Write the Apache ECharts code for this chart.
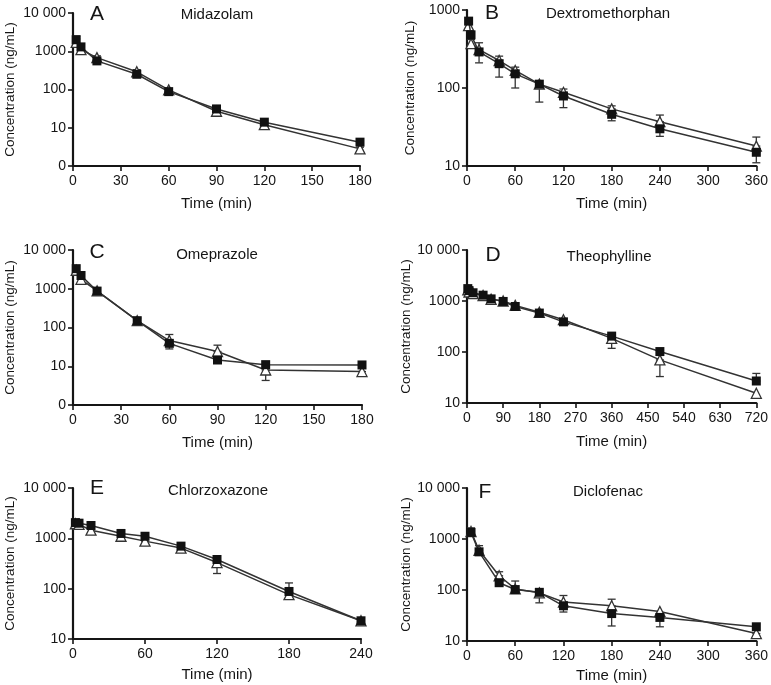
<!DOCTYPE html>
<html>
<head>
<meta charset="utf-8">
<script src="https://cdn.jsdelivr.net/npm/echarts@6/dist/echarts.min.js"></script>
<style>
html,body{margin:0;padding:0;background:#fff;}
#chart{width:771px;height:685px;}
</style>
</head>
<body>
<div id="chart"></div>
<script>
// ---------- DATA ----------
const panelLetters = ['A','B','C','D','E','F'];
const drugNames = ['Midazolam','Dextromethorphan','Omeprazole','Theophylline','Chlorzoxazone','Diclofenac'];

const tA = [2,5,15,40,60,90,120,180];
const sqA = [2000,1300,560,250,88,31,14,4.2];
const triA = [1700,1100,680,290,98,27,12,2.8];
const errSqA = [[2,1700,2500],[5,1100,1500],[40,220,290],[90,27,38],[180,3.8,4.8]];
const errTriA = [[2,1400,2100],[15,600,760],[40,260,330],[90,22,32],[180,2.5,3.1]];

const tB = [2,5,15,40,60,90,120,180,240,360];
const sqB = [720,480,290,205,152,112,79,46,30,15];
const triB = [630,370,310,225,168,112,88,54,37,18];
const errSqB = [[15,210,290],[40,138,205],[60,100,152],[90,66,112],[120,56,79],[180,38,46],[240,24,30],[360,11,15]];
const errTriB = [[5,330,420],[15,310,380],[40,225,256],[60,168,185],[120,88,97],[180,54,59],[240,37,45],[360,18,23.5]];

const tC = [2,5,15,40,60,90,120,180];
const sqC = [3300,2200,870,150,39,14.5,11,10.8];
const triC = [3000,1750,880,150,46,24,8,7.3];
const errSqC = [[40,125,175],[60,28,39],[90,12.5,14.5]];
const errTriC = [[5,1450,1750],[60,46,66],[90,24,35],[120,4.3,8],[180,5.6,7.3]];

const tD = [2,5,15,40,60,90,120,180,240,360,480,720];
const sqD = [1750,1600,1450,1300,1100,980,780,580,390,205,102,27];
const triD = [1650,1500,1400,1280,1080,1000,820,600,430,185,70,15.5];
const errSqD = [[360,205,220],[720,27,38]];
const errTriD = [[60,1000,1200],[360,118,185],[480,33,70]];

const tE = [2,5,15,40,60,90,120,180,240];
const sqE = [2050,2000,1800,1250,1100,700,380,88,23];
const triE = [1950,1900,1450,1100,880,640,330,76,23];
const errSqE = [[60,1100,1250],[120,380,420],[180,88,130]];
const errTriE = [[60,780,880],[120,200,330],[180,70,76]];

const tF = [5,15,40,60,90,120,180,240,360];
const sqF = [1350,560,139,102,90,49,34.5,29,19];
const triF = [1400,600,190,105,88,58,49,38,14];
const errSqF = [[5,1350,1650],[90,56,90],[120,37,49],[180,19.7,34.5],[240,19,29]];
const errTriF = [[15,600,740],[40,190,228],[60,105,150],[120,58,78],[180,49,66],[360,12.5,14]];

const xMax = [180,360,180,720,240,360];
const xInterval = [30,60,30,90,60,60];
const yMin = [1,10,1,10,10,10];
const yMax = [10000,1000,10000,10000,10000,10000];

// ---------- LAYOUT ----------
const grids = [
  {left:73, top:13, width:287, height:153},
  {left:467, top:10, width:291, height:156},
  {left:73, top:250, width:289, height:155},
  {left:467, top:250, width:290, height:153},
  {left:73, top:488, width:288, height:151},
  {left:467, top:488, width:290, height:153}
];
const yNameGap = [56,50,56,50,56,50];
const xNameGap = [30,30,30,31,28,27];
const letterPos = [[97,14],[492,13],[97,252],[493,255],[97,488],[485,492]];
const namePos = [[217,15],[608,14],[217,255],[609,257],[218,491],[608,492]];

const times = [tA,tB,tC,tD,tE,tF];
const sqs = [sqA,sqB,sqC,sqD,sqE,sqF];
const tris = [triA,triB,triC,triD,triE,triF];
const errSqs = [errSqA,errSqB,errSqC,errSqD,errSqE,errSqF];
const errTris = [errTriA,errTriB,errTriC,errTriD,errTriE,errTriF];

const ink = '#151515';
const lineInk = '#333333';
const FONT = 'Liberation Sans, Arial, sans-serif';

function yFmt(v){
  if (v === 10000) return '10 000';
  if (v === 1) return '0';
  return String(v);
}

function errRender(params, api){
  const x = api.value(0);
  const lo = api.coord([x, api.value(1)]);
  const hi = api.coord([x, api.value(2)]);
  const w = 4;
  return {
    type:'group',
    children:[
      {type:'line', shape:{x1:lo[0],y1:lo[1],x2:hi[0],y2:hi[1]}, style:{stroke:lineInk,lineWidth:1.3}},
      {type:'line', shape:{x1:lo[0]-w,y1:lo[1],x2:lo[0]+w,y2:lo[1]}, style:{stroke:lineInk,lineWidth:1.3}},
      {type:'line', shape:{x1:hi[0]-w,y1:hi[1],x2:hi[0]+w,y2:hi[1]}, style:{stroke:lineInk,lineWidth:1.3}}
    ]
  };
}

const xAxes = [], yAxes = [], series = [], graphics = [];
for (let i = 0; i < 6; i++){
  xAxes.push({
    gridIndex:i, type:'value', min:0, max:xMax[i], interval:xInterval[i],
    name:'Time (min)', nameLocation:'middle', nameGap:xNameGap[i],
    nameTextStyle:{fontFamily:FONT, fontSize:15, color:ink},
    axisLine:{lineStyle:{color:ink,width:2.2}},
    axisTick:{inside:false,length:5,lineStyle:{color:ink,width:1.6}},
    axisLabel:{fontFamily:FONT, fontSize:14, color:ink, margin:8},
    splitLine:{show:false}
  });
  yAxes.push({
    gridIndex:i, type:'log', logBase:10, min:yMin[i], max:yMax[i],
    name:'Concentration (ng/mL)', nameLocation:'middle', nameGap:yNameGap[i],
    nameTextStyle:{fontFamily:FONT, fontSize:13.5, color:ink},
    axisLine:{show:true, onZero:false, lineStyle:{color:ink,width:2.2}},
    axisTick:{show:true, inside:false,length:5,lineStyle:{color:ink,width:1.6}},
    axisLabel:{fontFamily:FONT, fontSize:14, color:ink, margin:7, formatter:yFmt},
    splitLine:{show:false}, minorTick:{show:false}
  });
  series.push({
    type:'custom', xAxisIndex:i, yAxisIndex:i, renderItem:errRender,
    data:errTris[i], encode:{x:0,y:[1,2]}, z:1, silent:true
  });
  series.push({
    type:'custom', xAxisIndex:i, yAxisIndex:i, renderItem:errRender,
    data:errSqs[i], encode:{x:0,y:[1,2]}, z:1, silent:true
  });
  series.push({
    type:'line', xAxisIndex:i, yAxisIndex:i, z:2,
    data:times[i].map((t,k)=>[t,tris[i][k]]),
    symbol:'triangle', symbolSize:10,
    lineStyle:{color:lineInk,width:1.5},
    itemStyle:{color:'#ffffff',borderColor:lineInk,borderWidth:1.3},
    animation:false
  });
  series.push({
    type:'line', xAxisIndex:i, yAxisIndex:i, z:3,
    data:times[i].map((t,k)=>[t,sqs[i][k]]),
    symbol:'rect', symbolSize:9,
    lineStyle:{color:lineInk,width:1.5},
    itemStyle:{color:'#111111',borderColor:'#111111',borderWidth:0},
    animation:false
  });
  graphics.push({
    type:'text', x:letterPos[i][0], y:letterPos[i][1],
    style:{text:panelLetters[i], font:'21px '+FONT, fill:ink, textAlign:'center', textVerticalAlign:'middle'}
  });
  graphics.push({
    type:'text', x:namePos[i][0], y:namePos[i][1],
    style:{text:drugNames[i], font:'15px '+FONT, fill:ink, textAlign:'center', textVerticalAlign:'middle'}
  });
}

const chart = echarts.init(document.getElementById('chart'), null, {renderer:'canvas'});
chart.setOption({
  animation:false,
  backgroundColor:'#ffffff',
  grid:grids,
  xAxis:xAxes,
  yAxis:yAxes,
  series:series,
  graphic:graphics
});
</script>
</body>
</html>
